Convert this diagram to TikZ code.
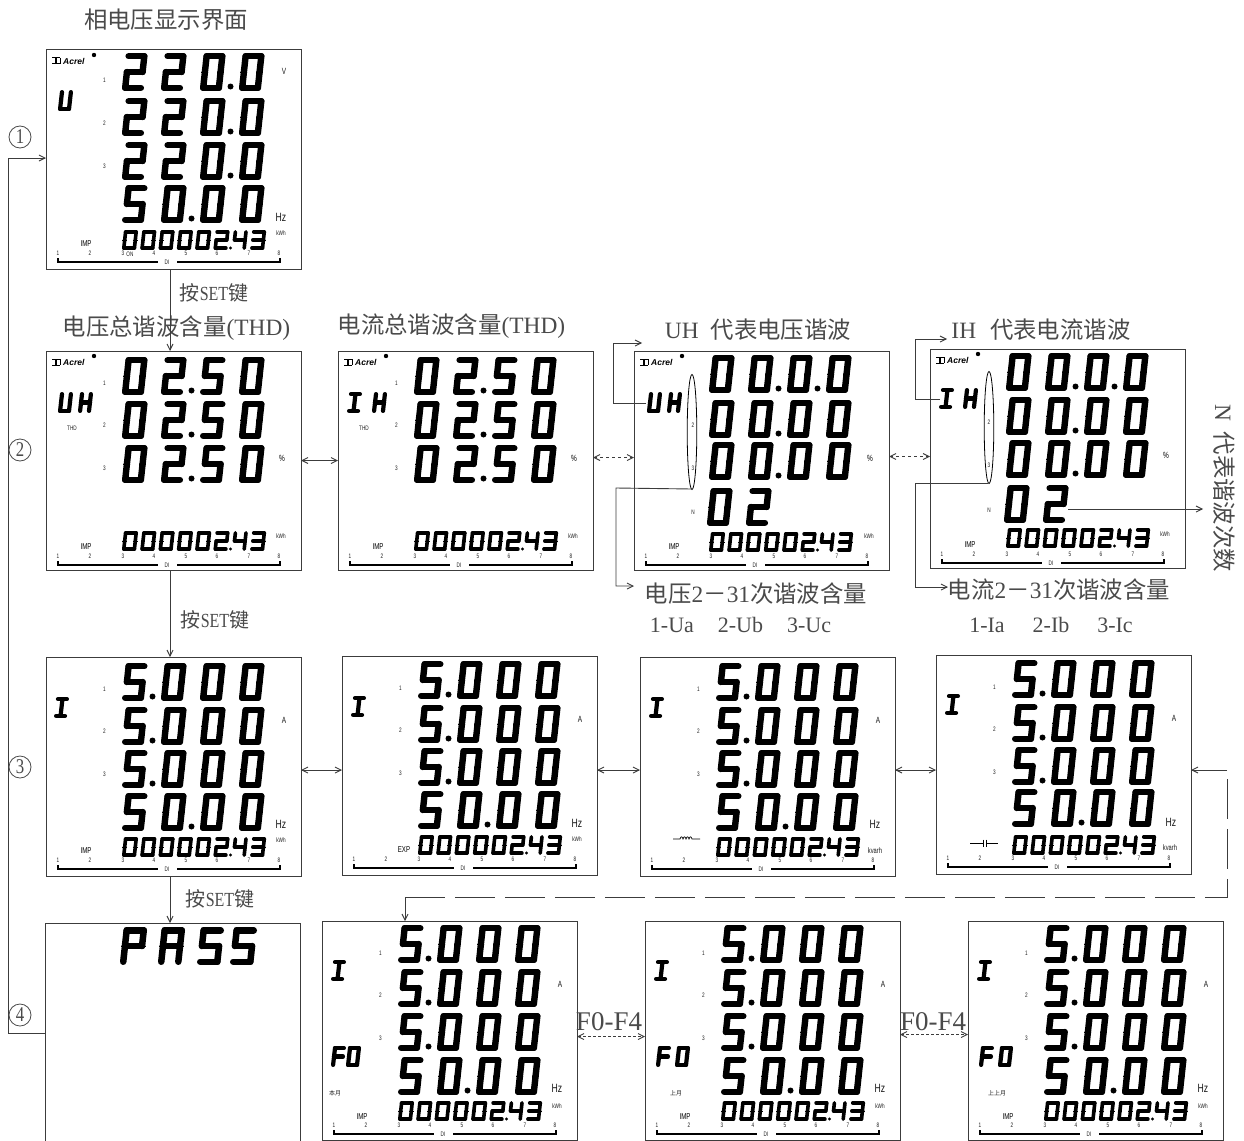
\documentclass[tikz,border=0pt]{standalone}
\usepackage{fontspec}
\usetikzlibrary{arrows.meta}
\setmainfont{Liberation Serif}
\newfontfamily\cjk{Noto Sans CJK SC}
\newfontfamily\lat[FakeStretch=0.8]{Liberation Serif}
\newfontfamily\lcdf[FakeStretch=0.72]{Liberation Sans}
\newfontfamily\acr{Liberation Sans}
\definecolor{lblc}{HTML}{4A4A4A}
\definecolor{linec}{HTML}{3C3C3C}
\def\segA{(0,0)--(1,0)}
\def\segB{(1,0)--(1,.5)}
\def\segC{(1,.5)--(1,1)}
\def\segD{(0,1)--(1,1)}
\def\segE{(0,.5)--(0,1)}
\def\segF{(0,0)--(0,.5)}
\def\segG{(0,.5)--(1,.5)}
\def\segM{(.5,0)--(.5,1)}
\def\segN{(0,0)}
\def\segL{(-.22,.5)--(.22,.5)}
\def\segR{(.78,.5)--(1.22,.5)}
\expandafter\def\csname ch0\endcsname{A,B,C,D,E,F}
\expandafter\def\csname ch2\endcsname{A,B,G,E,D}
\expandafter\def\csname ch3\endcsname{A,B,G,C,D}
\expandafter\def\csname ch4\endcsname{F,G,B,C}
\expandafter\def\csname ch5\endcsname{A,F,G,C,D}
\expandafter\def\csname chP\endcsname{A,B,E,F,G}
\expandafter\def\csname chB\endcsname{A,B,C,E,F,G}
\expandafter\def\csname chH\endcsname{B,C,E,F,G}
\expandafter\def\csname chU\endcsname{B,C,D,E,F}
\expandafter\def\csname chF\endcsname{A,E,F,G}
\expandafter\def\csname chI\endcsname{A,D,M}
\expandafter\def\csname sp0\endcsname{L,R}
\expandafter\def\csname sp2\endcsname{N}
\expandafter\def\csname sp3\endcsname{R}
\expandafter\def\csname sp4\endcsname{R}
\expandafter\def\csname sp5\endcsname{N}
\expandafter\def\csname spP\endcsname{L,R}
\expandafter\def\csname spB\endcsname{L,R}
\expandafter\def\csname spH\endcsname{L,R}
\expandafter\def\csname spU\endcsname{L,R}
\expandafter\def\csname spF\endcsname{L}
\expandafter\def\csname spI\endcsname{N}
\tikzset{
  segline/.style={line cap=round,line join=round,black},
  spikeline/.style={line width=0.9pt,black},
  lcdbox/.style={draw=linec,line width=1pt,fill=white,rectangle,inner sep=0pt,outer sep=0pt,minimum width=255pt,minimum height=219pt,anchor=north west},
  conn/.style={draw=linec,line width=0.9pt},
  tipboth/.style={{Straight Barb[length=6pt,width=6pt]}-{Straight Barb[length=6pt,width=6pt]}},
  tipend/.style={-{Straight Barb[length=6pt,width=6pt]}},
  lbl/.style={text=lblc,inner sep=0pt,font=\fontsize{23.4}{23.4}\selectfont},
  keylbl/.style={text=lblc,inner sep=0pt,font=\fontsize{20}{20}\selectfont},
  tinylbl/.style={text=black!88,inner sep=0pt,font=\lcdf\fontsize{6.5}{6.5}\selectfont},
  unitlbl/.style={text=black!90,inner sep=0pt,font=\lcdf\fontsize{12}{12}\selectfont},
  kwhlbl/.style={text=black!90,inner sep=0pt,font=\lcdf\fontsize{6.5}{6.5}\selectfont},
  implbl/.style={text=black,inner sep=0pt,font=\lcdf\fontsize{8.5}{8.5}\selectfont},
  circnum/.style={draw=lblc,line width=0.8pt,circle,text=lblc,inner sep=0pt,minimum size=22pt,fill=white,font=\lat\fontsize{21}{21}\selectfont},
}
\newcommand\sevenchar[6]{%
  \pgfmathsetmacro\skw{#4*0.09}%
  \pgfmathsetmacro\wxx{#3-#5-\skw}%
  \pgfmathsetmacro\hyy{#4-#5}%
  \pgfmathsetmacro\sxx{#1+\skw+#5/2}%
  \pgfmathsetmacro\syy{#2+#5/2}%
  \begin{scope}[shift={(\sxx,\syy)},x={(\wxx pt,0pt)},y={(-\skw pt,-\hyy pt)}]
    \edef\seglist{\csname ch#6\endcsname}%
    \foreach \ss in \seglist {\edef\tmpp{\csname seg\ss\endcsname}\draw[segline,line width=#5pt] \tmpp;}
    \edef\spklist{\csname sp#6\endcsname}%
    \foreach \ss in \spklist {\edef\tmpp{\csname seg\ss\endcsname}\draw[spikeline] \tmpp;}
  \end{scope}}
\newcommand\lcdrow[4]{%
  \foreach \cc [count=\ci from 0] in {#3}{\pgfmathsetmacro\dxx{#1+39*\ci}\sevenchar{\dxx}{#2}{25.5}{38}{6.4}{\cc}}%
  \foreach \kk in {#4}{\ifnum\kk>0 \pgfmathsetmacro\dxx{#1+39*(\kk-1)+30.5}\pgfmathsetmacro\dyy{#2+33.5}\fill (\dxx,\dyy) circle (3);\fi}}
\newcommand\smallrow[2]{%
  \foreach \cc [count=\ci from 0] in {0,0,0,0,0,2,4,3}{\pgfmathsetmacro\dxx{#1+18.3*\ci}\sevenchar{\dxx}{#2}{16}{20}{3.6}{\cc}}%
  \pgfmathsetmacro\dxx{#1+5*18.3+17}\pgfmathsetmacro\dyy{#2+18}\fill (\dxx,\dyy) circle (1.7);}
\newcommand\leftchars[4]{%
  \foreach \cc [count=\ci from 0] in {#3}{\pgfmathsetmacro\dxx{#1+#4*\ci}\sevenchar{\dxx}{#2}{15}{21}{4.2}{\cc}}}
% #1 name #2 x #3 y #4 bar offset
\newcommand\lcdbase[4]{%
  \node[lcdbox] (#1) at (#2,#3) {};
  \foreach \nn/\xo in {1/12,2/44,3/77,4/108,5/140,6/171,7/203,8/233}{%
    \pgfmathsetmacro\dxx{#2+\xo}\pgfmathsetmacro\dyy{#3+#4-9}%
    \node[tinylbl] (#1-n\nn) at (\dxx,\dyy) {\nn};}
  \pgfmathsetmacro\xa{#2+12}\pgfmathsetmacro\xb{#2+112}\pgfmathsetmacro\xc{#2+131}\pgfmathsetmacro\xd{#2+234}%
  \pgfmathsetmacro\ya{#3+#4}\pgfmathsetmacro\yb{#3+#4-4}\pgfmathsetmacro\xe{#2+121}%
  \draw[line width=1.4pt,black] (\xa,\yb) -- (\xa,\ya) -- (\xb,\ya);
  \draw[line width=1.4pt,black] (\xc,\ya) -- (\xd,\ya) -- (\xd,\yb);
  \node[tinylbl] (#1-di) at (\xe,\ya) {DI};}
\newcommand\lcdlabels[5]{% name x y ImpLabel kwh
  \pgfmathsetmacro\dxx{#2+40}\pgfmathsetmacro\dyy{#3+196}%
  \node[implbl] (#1-imp) at (\dxx,\dyy) {#4};
  \pgfmathsetmacro\dxx{#2+235}\pgfmathsetmacro\dyy{#3+185}%
  \node[kwhlbl] (#1-kwh) at (\dxx,\dyy) {#5};}
\newcommand\hzlabel[3]{%
  \pgfmathsetmacro\dxx{#2+235}\pgfmathsetmacro\dyy{#3+167}\node[unitlbl] (#1-hz) at (\dxx,\dyy) {Hz};}
\newcommand\rownums[5]{% name x y num list
  \foreach \nn/\yo in {#4}{\pgfmathsetmacro\dxx{#2+58.5}\pgfmathsetmacro\dyy{#3+\yo}\node[tinylbl] (#1-r\nn) at (\dxx,\dyy) {#5\nn};}}
\newcommand\acrel[3]{%
  \pgfmathsetmacro\dxx{#2+17}\pgfmathsetmacro\dyy{#3+11}%
  \node[inner sep=0pt,anchor=west,font=\acr\bfseries\itshape\fontsize{8.5}{8.5}\selectfont] (#1-acrel) at (\dxx,\dyy) {Acrel};
  \pgfmathsetmacro\dxx{#2+6}\pgfmathsetmacro\dyy{#3+8}\pgfmathsetmacro\xa{#2+14}\pgfmathsetmacro\ya{#3+14}%
  \draw[line width=1pt,black] (\dxx,\dyy) -- (\xa,\dyy) (\dxx,\ya) -- (\xa,\ya) (\xa,\dyy) -- (\xa,\ya);
  \pgfmathsetmacro\xb{#2+9}\fill (\xb,\dyy) rectangle (#2+11,\ya);
  \pgfmathsetmacro\xb{#2+48}\pgfmathsetmacro\yb{#3+5}\fill (\xb,\yb) circle (2.2);}
\begin{document}
\begin{tikzpicture}[x=1pt,y=-1pt]
\useasboundingbox (0,0) rectangle (1244,1140);
\clip (0,0) rectangle (1244,1140);
%% ---------- display 1
\lcdbase{d1}{46}{50}{212}
\acrel{d1}{46}{50}
\lcdrow{122}{53}{2,2,0,0}{3}
\lcdrow{122}{98}{2,2,0,0}{3}
\lcdrow{122}{142}{2,2,0,0}{3}
\lcdrow{122}{185}{5,0,0,0}{2}
\smallrow{122}{230}
\leftchars{58}{90}{U}{0}
\rownums{d1}{46}{50}{1/30,2/73,3/116}{}
\node[unitlbl,font=\lcdf\fontsize{9}{9}\selectfont] (d1-v) at (284,71) {V};
\hzlabel{d1}{46}{50}
\lcdlabels{d1}{46}{48}{IMP}{kWh}
\node[tinylbl] (d1-on) at (130,254) {ON};
%% ---------- display 2
\lcdbase{d2}{46}{351}{214}
\acrel{d2}{46}{351}
\lcdrow{122}{357}{0,2,5,0}{2}
\lcdrow{122}{401}{0,2,5,0}{2}
\lcdrow{122}{445}{0,2,5,0}{2}
\smallrow{122}{531}
\leftchars{58}{392}{U,H}{20}
\rownums{d2}{46}{351}{1/32,2/74,3/117}{}
\node[tinylbl] (d2-thd) at (72,428) {THD};
\node[implbl,font=\lcdf\fontsize{9}{9}\selectfont] (d2-pct) at (282,458) {\%};
\lcdlabels{d2}{46}{351}{IMP}{kWh}
%% ---------- display 3
\lcdbase{d3}{338}{351}{214}
\acrel{d3}{338}{351}
\lcdrow{414}{357}{0,2,5,0}{2}
\lcdrow{414}{401}{0,2,5,0}{2}
\lcdrow{414}{445}{0,2,5,0}{2}
\smallrow{414}{531}
\leftchars{347}{392}{I,H}{25}
\rownums{d3}{338}{351}{1/32,2/74,3/117}{}
\node[tinylbl] (d3-thd) at (364,428) {THD};
\node[implbl,font=\lcdf\fontsize{9}{9}\selectfont] (d3-pct) at (574,458) {\%};
\lcdlabels{d3}{338}{351}{IMP}{kWh}
%% ---------- display 4
\lcdbase{d4}{634}{351}{214}
\acrel{d4}{634}{351}
\lcdrow{709}{355}{0,0,0,0}{2,3}
\lcdrow{709}{400}{0,0,0,0}{2}
\lcdrow{709}{442}{0,0,0,0}{2}
\lcdrow{707}{488}{0,2}{0}
\smallrow{709}{532}
\leftchars{647}{392}{U,H}{20}
\node[implbl,font=\lcdf\fontsize{9}{9}\selectfont] (d4-pct) at (870,458) {\%};
\lcdlabels{d4}{634}{351}{IMP}{kWh}
\draw[draw=black,line width=0.8pt] (692,432) ellipse [x radius=4.8,y radius=57.5];
\node[tinylbl] (d4-e2) at (693,425) {2};
\node[tinylbl] (d4-e3) at (693,468) {3};
\node[tinylbl] (d4-nn) at (693,512) {N};
\coordinate (d4-ub) at (692,489);
\coordinate (d4-ua) at (646,403);
%% ---------- display 5
\lcdbase{d5}{930}{349}{214}
\acrel{d5}{930}{349}
\lcdrow{1006}{353}{0,0,0,0}{2,3}
\lcdrow{1006}{397}{0,0,0,0}{2}
\lcdrow{1006}{440}{0,0,0,0}{2}
\lcdrow{1004}{485}{0,2}{0}
\smallrow{1006}{528}
\leftchars{939}{388}{I,H}{24}
\node[implbl,font=\lcdf\fontsize{9}{9}\selectfont] (d5-pct) at (1166,455) {\%};
\lcdlabels{d5}{930}{349}{IMP}{kWh}
\draw[draw=black,line width=0.8pt] (989,427.5) ellipse [x radius=4.8,y radius=56];
\node[tinylbl] (d5-e2) at (989,422) {2};
\node[tinylbl] (d5-e3) at (989,465) {3};
\node[tinylbl] (d5-nn) at (989,510) {N};
\coordinate (d5-ub) at (988,483);
\coordinate (d5-ua) at (940,399);
\coordinate (d5-n) at (1068,509);
%% ---------- display 6
\lcdbase{d6}{46}{657}{212}
\lcdrow{122}{663}{5,0,0,0}{1}
\lcdrow{122}{707}{5,0,0,0}{1}
\lcdrow{122}{750}{5,0,0,0}{1}
\lcdrow{122}{793}{5,0,0,0}{2}
\smallrow{122}{837}
\leftchars{54}{697}{I}{0}
\rownums{d6}{46}{657}{1/32,2/74,3/117}{}
\node[unitlbl,font=\lcdf\fontsize{9}{9}\selectfont] (d6-a) at (284,720) {A};
\hzlabel{d6}{46}{657}
\lcdlabels{d6}{46}{655}{IMP}{kWh}
%% ---------- display 7
\lcdbase{d7}{342}{656}{212}
\lcdrow{418}{661}{5,0,0,0}{1}
\lcdrow{418}{705}{5,0,0,0}{1}
\lcdrow{418}{748}{5,0,0,0}{1}
\lcdrow{418}{791}{5,0,0,0}{2}
\smallrow{418}{835}
\leftchars{351}{696}{I}{0}
\rownums{d7}{342}{656}{1/32,2/74,3/117}{}
\node[unitlbl,font=\lcdf\fontsize{9}{9}\selectfont] (d7-a) at (580,719) {A};
\hzlabel{d7}{342}{656}
\lcdlabels{d7}{342}{654}{}{kWh}
\node[implbl] (d7-exp) at (404,850) {EXP};
%% ---------- display 8
\lcdbase{d8}{640}{657}{212}
\lcdrow{716}{663}{5,0,0,0}{1}
\lcdrow{716}{707}{5,0,0,0}{1}
\lcdrow{716}{750}{5,0,0,0}{1}
\lcdrow{716}{793}{5,0,0,0}{2}
\smallrow{716}{837}
\leftchars{649}{697}{I}{0}
\rownums{d8}{640}{657}{1/32,2/74,3/117}{}
\node[unitlbl,font=\lcdf\fontsize{9}{9}\selectfont] (d8-a) at (878,720) {A};
\hzlabel{d8}{640}{657}
\node[kwhlbl,font=\lcdf\fontsize{8}{8}\selectfont] (d8-kv) at (875,851) {kvarh};
\draw[line width=0.7pt,black] (673,839) -- (680,839)
  .. controls (681,836) and (682,836) .. (683,839) .. controls (684,836) and (685,836) .. (686,839)
  .. controls (687,836) and (688,836) .. (689,839) .. controls (690,836) and (691,836) .. (692,839) -- (700,839);
%% ---------- display 9
\lcdbase{d9}{936}{655}{212}
\lcdrow{1012}{660}{5,0,0,0}{1}
\lcdrow{1012}{704}{5,0,0,0}{1}
\lcdrow{1012}{747}{5,0,0,0}{1}
\lcdrow{1012}{789}{5,0,0,0}{2}
\smallrow{1012}{835}
\leftchars{945}{694}{I}{0}
\rownums{d9}{936}{655}{1/32,2/74,3/117}{}
\node[unitlbl,font=\lcdf\fontsize{9}{9}\selectfont] (d9-a) at (1174,718) {A};
\hzlabel{d9}{936}{655}
\node[kwhlbl,font=\lcdf\fontsize{8}{8}\selectfont] (d9-kv) at (1170,848) {kvarh};
\draw[line width=0.8pt,black] (970,843) -- (983,843) (986,843) -- (998,843) (983,839.5) -- (983,846.5) (986,839.5) -- (986,846.5);
%% ---------- display 10
\node[lcdbox] (d10) at (45,923) {};
\sevenchar{120}{927}{27}{38}{6.5}{P}
\sevenchar{158}{927}{27}{38}{6.5}{B}
\sevenchar{197}{927}{27}{38}{6.5}{5}
\sevenchar{230}{927}{27}{38}{6.5}{5}
%% ---------- display 11
\lcdbase{d11}{322}{921}{213}
\lcdrow{398}{925}{5,0,0,0}{1}
\lcdrow{398}{969}{5,0,0,0}{1}
\lcdrow{398}{1013}{5,0,0,0}{1}
\lcdrow{398}{1057}{5,0,0,0}{2}
\smallrow{398}{1101}
\leftchars{331}{960}{I}{0}
\leftchars{331}{1046}{F,0}{15}
\rownums{d11}{322}{921}{1/32,2/74,3/117}{}
\node[unitlbl,font=\lcdf\fontsize{9}{9}\selectfont] (d11-a) at (560,984) {A};
\hzlabel{d11}{322}{921}
\lcdlabels{d11}{322}{921}{IMP}{kWh}
\node[tinylbl,font=\cjk\fontsize{6}{6}\selectfont] (d11-m) at (335,1093) {本月};
%% ---------- display 12
\lcdbase{d12}{645}{921}{213}
\lcdrow{721}{925}{5,0,0,0}{1}
\lcdrow{721}{969}{5,0,0,0}{1}
\lcdrow{721}{1013}{5,0,0,0}{1}
\lcdrow{721}{1057}{5,0,0,0}{2}
\smallrow{721}{1101}
\leftchars{654}{960}{I}{0}
\leftchars{656}{1046}{F,0}{19}
\rownums{d12}{645}{921}{1/32,2/74,3/117}{}
\node[unitlbl,font=\lcdf\fontsize{9}{9}\selectfont] (d12-a) at (883,984) {A};
\hzlabel{d12}{645}{921}
\lcdlabels{d12}{645}{921}{IMP}{kWh}
\node[tinylbl,font=\cjk\fontsize{6}{6}\selectfont] (d12-m) at (676,1093) {上月};
%% ---------- display 13
\lcdbase{d13}{968}{921}{213}
\lcdrow{1044}{925}{5,0,0,0}{1}
\lcdrow{1044}{969}{5,0,0,0}{1}
\lcdrow{1044}{1013}{5,0,0,0}{1}
\lcdrow{1044}{1057}{5,0,0,0}{2}
\smallrow{1044}{1101}
\leftchars{977}{960}{I}{0}
\leftchars{979}{1046}{F,0}{19}
\rownums{d13}{968}{921}{1/32,2/74,3/117}{}
\node[unitlbl,font=\lcdf\fontsize{9}{9}\selectfont] (d13-a) at (1206,984) {A};
\hzlabel{d13}{968}{921}
\lcdlabels{d13}{968}{921}{IMP}{kWh}
\node[tinylbl,font=\cjk\fontsize{6}{6}\selectfont] (d13-m) at (997,1093) {上上月};
%% ---------- titles
\node[lbl] (t1) at (166,20) {\cjk 相电压显示界面};
\node[lbl] (t2) at (176.5,328) {\cjk 电压总谐波含量{\rmfamily(THD)}};
\node[lbl] (t3) at (451.5,326) {\cjk 电流总谐波含量{\rmfamily(THD)}};
\node[lbl] (t4) at (758,330) {{\rmfamily UH\hspace{12pt}}\cjk 代表电压谐波};
\node[lbl] (t5) at (1041,330) {{\rmfamily IH\hspace{14pt}}\cjk 代表电流谐波};
\node[lbl] (t6) at (756,594) {\cjk 电压{\rmfamily 2}－{\rmfamily 31}次谐波含量};
\node[lbl] (t7) at (1059,590) {\cjk 电流{\rmfamily 2}－{\rmfamily 31}次谐波含量};
\node[keylbl,font=\rmfamily\fontsize{22}{22}\selectfont] (t8) at (740.5,625) {1-Ua\hspace{24pt}2-Ub\hspace{24pt}3-Uc};
\node[keylbl,font=\rmfamily\fontsize{22}{22}\selectfont] (t9) at (1051,625) {1-Ia\hspace{28pt}2-Ib\hspace{28pt}3-Ic};
\node[lbl,rotate=-90] (t10) at (1224,488.5) {{\rmfamily N\hspace{10pt}}\cjk 代表谐波次数};
\node[keylbl] (k1) at (214,293) {\cjk 按{\lat SET}键};
\node[keylbl] (k2) at (215,620) {\cjk 按{\lat SET}键};
\node[keylbl] (k3) at (220,899) {\cjk 按{\lat SET}键};
\node[keylbl,font=\rmfamily\fontsize{27}{27}\selectfont] (f1) at (609,1022) {F0-F4};
\node[keylbl,font=\rmfamily\fontsize{27}{27}\selectfont] (f2) at (933,1022) {F0-F4};
%% ---------- left rail
\coordinate (railtop) at (8,158);
\coordinate (railbot) at (8,1033);
\draw[conn,tipend] (railbot) -- (railtop) -- (d1.west |- railtop);
\draw[conn] (railbot) -- (d10.west |- railbot);
\node[circnum] (c1) at (20,137) {1};
\node[circnum] (c2) at (20,450) {2};
\node[circnum] (c3) at (20,767) {3};
\node[circnum] (c4) at (20,1015) {4};
%% ---------- connectors
\draw[conn,tipend] ([xshift=-3.5pt]d1.south) -- ([xshift=-3.5pt]d2.north);
\draw[conn,tipend] ([xshift=-3.5pt]d2.south) -- ([xshift=-3.5pt]d6.north);
\draw[conn,tipend] ([xshift=-3.5pt]d6.south) -- ([xshift=-2.5pt]d10.north);
\draw[conn,tipboth] (d2.east) -- (d3.west);
\draw[conn,tipboth,dashed] ([yshift=3pt]d3.east) -- ([yshift=3pt]d4.west);
\draw[conn,tipboth,dashed] ([yshift=4pt]d4.east) -- ([yshift=2pt]d5.west);
\draw[conn,tipboth] ([yshift=-3.5pt]d6.east) -- ([yshift=-4.5pt]d7.west);
\draw[conn,tipboth] ([yshift=-4.5pt]d7.east) -- ([yshift=-3.5pt]d8.west);
\draw[conn,tipboth] ([yshift=-3.5pt]d8.east) -- ([yshift=-5.5pt]d9.west);
\coordinate (loopa) at (1227,770);
\coordinate (loopb) at (1227,897);
\coordinate (loopc) at (405,897);
\draw[conn,tipend] (loopa) -- (d9.east |- loopa);
\draw[conn,dash pattern=on 40pt off 10pt] (loopc) -- (loopb) -- (loopa);
\draw[conn,tipend] (loopc) -- (d11.north -| loopc);
\draw[conn,tipboth,densely dashed] ([yshift=-6pt]d11.east) -- ([yshift=-6pt]d12.west);
\draw[conn,tipboth,densely dashed] ([yshift=-4pt]d12.east) -- ([yshift=-4pt]d13.west);
\coordinate (ua1) at (613,403);
\coordinate (ua2) at (613,343);
\coordinate (ua3) at (642,343);
\draw[conn,tipend] (d4-ua) -- (ua1) -- (ua2) -- (ua3);
\coordinate (ub1) at (616,488);
\coordinate (ub2) at (616,586);
\coordinate (ub3) at (634,586);
\draw[conn,tipend] (d4-ub) -- (ub1) -- (ub2) -- (ub3);
\coordinate (ia1) at (915,399);
\coordinate (ia2) at (915,339);
\coordinate (ia3) at (947,339);
\draw[conn,tipend] (d5-ua) -- (ia1) -- (ia2) -- (ia3);
\coordinate (ib1) at (915,483);
\coordinate (ib2) at (915,587);
\coordinate (ib3) at (948,587);
\draw[conn,tipend] (d5-ub) -- (ib1) -- (ib2) -- (ib3);
\coordinate (nn1) at (1203,509);
\draw[conn,tipend] (d5-n) -- (nn1);
\end{tikzpicture}
\end{document}
